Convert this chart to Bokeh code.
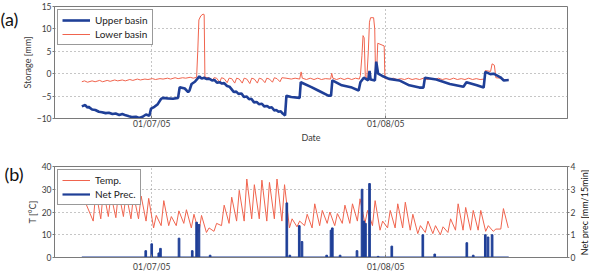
import numpy as np
from bokeh.plotting import figure
from bokeh.layouts import column
from bokeh.models import (Range1d, LinearAxis, FixedTicker, Label, Legend,
                          LegendItem)
from bokeh.embed import file_html
from bokeh.resources import INLINE

# Time axis: days since 01/07/05 00:00
date_ticks = [0, 31]
date_labels = ["01/07/05", "01/08/05"]

# Storage of the upper basin [mm] (time, value)
upper_t = [-9.26, -8.81, -8.5, -8.36, -7.9, -7.47, -7.0, -6.59, -6.1, -5.68,
           -5.2, -4.78, -4.3, -3.89, -3.44, -3.0, -2.55, -2.1, -1.65, -1.2,
           -0.76, -0.31, -0.09, 0.36, 0.8, 1.25, 1.48, 2.1, 2.82, 3.49, 3.71,
           4.38, 4.83, 5.0, 5.28, 5.72, 6.04, 6.31, 6.62, 6.94, 7.3, 7.6,
           8.0, 8.3, 8.64, 9.0, 9.3, 9.6, 9.98, 10.3, 10.6, 10.87, 11.2,
           11.5, 11.9, 12.22, 12.6, 12.9, 13.2, 13.56, 13.9, 14.2, 14.6,
           14.9, 15.3, 15.6, 15.9, 16.24, 16.5, 16.8, 17.1, 17.36, 17.67,
           17.85, 18.48, 19.6, 19.75, 21.16,
           22.05, 23.4, 23.76, 23.93, 25.19, 26.53, 27.42, 27.65, 28.1,
           28.68, 28.86, 29.0, 29.57, 29.75, 30.0, 30.55, 31.45, 32.8,
           34.13, 35.47, 36.0, 36.2, 37.7, 39.5, 41.3, 41.7, 43.08, 43.98,
           44.2, 44.87, 45.3, 46.2, 46.65, 47.3]
upper_v = [-7.3, -7.0, -7.6, -7.4, -8.0, -8.1, -8.5, -8.6, -8.8, -8.7,
           -9.0, -8.9, -9.2, -9.0, -9.3, -9.5, -9.7, -9.6, -9.9, -9.6,
           -9.1, -9.4, -7.8, -7.4, -6.8, -5.6, -5.4, -5.5, -5.6, -5.4, -3.0,
           -3.3, -4.1, -3.8, -2.3, -1.8, -1.15, -0.6, -1.1, -0.9, -1.2, -1.1,
           -1.5, -1.4, -2.0, -1.9, -2.2, -2.1, -2.75, -2.9, -3.5, -4.1, -4.0,
           -4.5, -4.4, -5.2, -5.1, -5.7, -5.6, -6.4, -6.3, -6.8, -6.7,
           -7.3, -7.2, -7.6, -7.5, -8.2, -8.1, -8.5, -8.4, -8.9, -9.3,
           -4.9, -5.2, -5.4, -1.9, -3.0,
           -3.75, -4.9, -4.9, -1.5, -2.6, -3.1, -3.75, -1.9, -0.9,
           -1.5, 0.6, -1.3, -1.5, 2.7, 0.0, -0.5, -1.15, -1.5,
           -2.6, -3.1, -3.1, -0.9, -1.3, -2.3, -2.9, -1.9, -2.6, -3.1,
           0.4, -0.1, 0.0, -0.8, -1.5, -1.4]

# Storage of the lower basin [mm] (time, value)
lower_t = [-9.26, -8.9, -8.5, -7.9, -7.5, -6.9, -6.5, -5.9, -5.5, -4.9, -4.5,
           -3.9, -3.5, -2.9, -2.5, -1.9, -1.5, -0.9, -0.5, 0.1, 0.5, 1.1, 1.5,
           2.1, 2.5, 3.1, 3.5, 4.1, 4.5, 5.1, 5.5, 5.95, 6.1, 6.25, 6.5, 6.8,
           6.95, 7.05, 7.6, 8.0, 8.25, 8.6, 9.0, 9.25, 9.6, 10.0, 10.25, 10.6,
           11.0, 11.25, 11.6, 12.0, 12.25, 12.6, 13.0, 13.25, 13.6, 14.0,
           14.25, 14.6, 15.0, 15.25, 15.6, 16.0, 16.25, 16.6, 17.0, 17.25,
           17.8, 18.5, 19.0, 19.6, 19.8, 19.95, 20.5, 21.0, 21.5, 22.0, 22.5,
           23.0, 23.7, 23.85, 24.0, 24.5, 25.0, 25.5, 26.0, 26.5, 27.0, 27.5,
           27.65, 27.85, 28.0, 28.15, 28.3, 28.5, 28.7, 28.85, 29.0, 29.4,
           29.55, 29.65, 29.8, 29.95, 30.8, 30.9, 31.5, 32.0, 32.5, 33.0,
           33.5, 34.0, 34.5, 35.0, 35.5, 36.0, 36.5, 37.0, 37.5, 38.0, 38.5,
           39.0, 39.5, 40.0, 40.5, 41.0, 41.5, 42.0, 42.5, 43.0, 43.5, 44.1,
           44.2, 44.9, 45.1, 45.4, 45.6, 46.2, 46.7, 47.3]
lower_v = [-1.8, -1.6, -1.9, -1.6, -1.8, -1.5, -1.8, -1.5, -1.7, -1.4, -1.6,
           -1.4, -1.6, -1.3, -1.5, -1.2, -1.4, -1.2, -1.3, -1.1, -1.3, -1.1,
           -1.2, -1.0, -1.2, -0.9, -1.1, -0.9, -1.0, -0.8, -1.0, -0.8, 5.0,
           12.0, 12.9, 13.3, 13.2, -0.8, -0.9, -1.6, -0.9, -1.0, -1.9, -0.9,
           -1.1, -2.0, -1.0, -1.1, -2.1, -1.0, -1.2, -2.1, -1.0, -1.2, -2.2,
           -1.0, -1.2, -2.1, -1.0, -1.2, -2.0, -1.0, -1.2, -1.9, -0.9, -1.1,
           -1.8, -0.9, -1.0, -1.2, -1.0, -1.2, 0.4, -1.0, -1.3, -1.0, -1.3,
           -1.0, -1.3, -1.1, -1.2, 0.1, -1.0, -1.3, -1.0, -1.3, -1.0, -1.3,
           -1.0, -1.2, -0.4, 4.0, 8.5, 8.0, -0.6, -1.0, 5.0, 11.5, 12.5, 12.5,
           10.0, 0.2, 0.5, 6.8, 6.2, -1.1, -1.2, -1.0, -1.3, -1.1, -1.3,
           -1.0, -1.3, -1.1, -1.3, -1.0, -1.3, -1.1, -1.3, -1.0, -1.3, -1.1,
           -1.3, -1.0, -1.3, -1.1, -1.3, -1.0, -1.3, -1.1, -1.3, -1.2,
           0.7, 0.5, 2.2, 1.9, -0.9, -1.0, -1.3, -1.4]

# Air temperature [deg C]: daily minimum (early morning) and maximum (afternoon)
temp_start = (-9.26, 28.0)
min_days = list(range(-8, 48))
temp_min = [16, 17, 18, 17.5, 18, 17, 17, 16, 13, 14, 14, 14, 15, 13, 11, 11,
            11.5, 14, 15, 16, 16, 17, 17, 16, 17, 16, 13, 13.5, 14, 13, 14,
            15, 14, 15, 15, 16, 15, 14, 12, 13, 13, 13, 12, 10.5, 11, 10.5,
            10, 11, 12, 12, 12, 12, 11.5, 11.5, 12.5, 13]
max_days = list(range(-8, 47))
temp_max = [29, 29.5, 27.5, 29, 28, 27.5, 27, 26, 18.5, 25, 18, 20.5, 21, 19,
            18.5, 13, 15, 23, 26.5, 29.5, 34.5, 32, 34, 33, 34.5, 32, 17, 16,
            19, 23.6, 20.7, 20, 19.3, 23, 23.6, 25.8, 20.7, 25, 16, 20.7,
            23.6, 24.3, 19, 14, 16, 14, 13.5, 17, 23.6, 22, 20.7, 20.7, 14,
            12.5, 21.5]

# Net precipitation [mm/15min]
prec_t = [-0.79, 0.0, 0.94, 1.16, 3.62, 5.37, 5.95, 6.26, 7.74, 17.9, 18.3,
          19.55, 19.91, 23.18, 23.76, 23.93, 24.96, 27.2, 27.87, 28.1, 28.32,
          28.86, 30.0, 31.81, 35.92, 37.5, 41.75, 42.6, 44.2, 44.56, 45.1]
prec_v = [0.3, 0.6, 0.2, 0.4, 0.85, 0.3, 1.55, 1.45, 0.1, 2.4, 0.1,
          1.4, 0.7, 0.1, 1.2, 1.3, 0.1, 0.3, 3.0, 1.6, 1.5,
          3.25, 0.05, 0.5, 1.0, 0.15, 0.65, 0.1, 1.0, 0.9, 1.0]
prec_span = [-9.26, 47.3]

# Assemble the temperature series in time order
temp_t = [temp_start[0]]
temp_v = [temp_start[1]]
for i, d in enumerate(min_days):
    temp_t.append(d + 0.25)
    temp_v.append(temp_min[i])
    if i < len(max_days):
        temp_t.append(max_days[i] + 0.6)
        temp_v.append(temp_max[i])

BLUE = "#1f3f97"
RED = "#f0644e"
FONT = "Lato"
TXT = "#3c3c3c"
XR = (-12.88, 55.09)


def style(p):
    p.outline_line_color = "#7a7a7a"
    p.background_fill_color = "white"
    for ax in p.axis:
        ax.major_label_text_font = FONT
        ax.major_label_text_font_size = "8.5px"
        ax.major_label_text_color = TXT
        ax.axis_label_text_font = FONT
        ax.axis_label_text_font_size = "9px"
        ax.axis_label_text_font_style = "normal"
        ax.axis_label_text_color = TXT
        ax.axis_line_color = "#7a7a7a"
        ax.major_tick_line_color = "#7a7a7a"
        ax.minor_tick_line_color = None
        ax.major_label_standoff = 1
    p.xaxis.ticker = FixedTicker(ticks=date_ticks)
    p.xaxis.major_label_overrides = dict(zip(date_ticks, date_labels))
    p.xaxis.major_tick_in = 3
    p.xaxis.major_tick_out = 0
    p.xaxis.major_label_standoff = 4
    p.yaxis.major_tick_in = 0
    p.yaxis.major_tick_out = 2
    for g in p.grid:
        g.grid_line_color = "#8c8c8c"
        g.grid_line_dash = "1 3"
        g.grid_line_width = 1
    p.xgrid.ticker = FixedTicker(ticks=date_ticks)


def side_text(text, x, y, size, angle=0.0, align="left"):
    return Label(x=x, y=y, x_units="screen", y_units="screen", text=text,
                 text_font=FONT, text_font_size=size, angle=angle,
                 text_align=align, text_baseline="middle", text_color="#111")


# (a) storage
pa = figure(width=589, height=146, x_range=Range1d(*XR),
            y_range=Range1d(-10, 15), output_backend="svg",
            toolbar_location=None, min_border_left=50, min_border_right=19,
            min_border_top=6, min_border_bottom=28)
style(pa)
pa.yaxis.ticker = FixedTicker(ticks=[-10, -5, 0, 5, 10, 15])
pa.yaxis.axis_label = "Storage [mm]"
pa.yaxis.axis_label_standoff = 1
pa.xaxis.axis_label = "Date"
pa.xaxis.axis_label_standoff = 0
pa.xaxis.major_label_standoff = 0

r_low = pa.line(lower_t, lower_v, line_color=RED, line_width=1)
r_up = pa.line(upper_t, upper_v, line_color=BLUE, line_width=2.6)
leg_a = Legend(items=[LegendItem(label="Upper basin", renderers=[r_up]),
                      LegendItem(label="Lower basin", renderers=[r_low])],
               location="top_left")
pa.add_layout(leg_a)
pa.add_layout(side_text("(a)", 0, 100, "18px"), "left")

# (b) temperature and net precipitation
pb = figure(width=589, height=130, x_range=Range1d(*XR),
            y_range=Range1d(0, 40), output_backend="svg",
            toolbar_location=None, min_border_left=50, min_border_right=19,
            min_border_top=20, min_border_bottom=19)
pb.extra_y_ranges = {"prec": Range1d(0, 4)}
pb.add_layout(LinearAxis(y_range_name="prec",
                         ticker=FixedTicker(ticks=[0, 1, 2, 3, 4])), "right")
style(pb)
pb.yaxis[0].ticker = FixedTicker(ticks=[0, 10, 20, 30, 40])
pb.yaxis[0].axis_label = "T [°C]"
pb.yaxis[0].axis_label_standoff = 1
pb.add_layout(side_text("Net prec [mm/15min]", 6, 45, "9px",
                        angle=np.pi / 2, align="center"), "right")

r_temp = pb.line(temp_t, temp_v, line_color=RED, line_width=1)
r_base = pb.line(prec_span, [0, 0], line_color=BLUE, line_width=2.2,
                 y_range_name="prec")
pb.vbar(x=prec_t, top=prec_v, width=0.22, bottom=0, fill_color=BLUE,
        line_color=BLUE, line_width=1, y_range_name="prec")
leg_b = Legend(items=[LegendItem(label="Temp.", renderers=[r_temp]),
                      LegendItem(label="Net Prec.", renderers=[r_base])],
               location="top_left")
pb.add_layout(leg_b)
pb.add_layout(side_text("(b)", 0, 84, "18px"), "left")

for leg in (leg_a, leg_b):
    leg.label_text_font = FONT
    leg.label_text_font_size = "10px"
    leg.label_text_color = "#222"
    leg.label_height = 10
    leg.glyph_height = 10
    leg.glyph_width = 28
    leg.label_standoff = 5
    leg.spacing = 2
    leg.padding = 4
    leg.margin = 3
    leg.border_line_color = "#333"
    leg.border_line_width = 1
    leg.background_fill_alpha = 1

layout = column(pa, pb, spacing=0)
open("out.html", "w").write(file_html(layout, INLINE))
